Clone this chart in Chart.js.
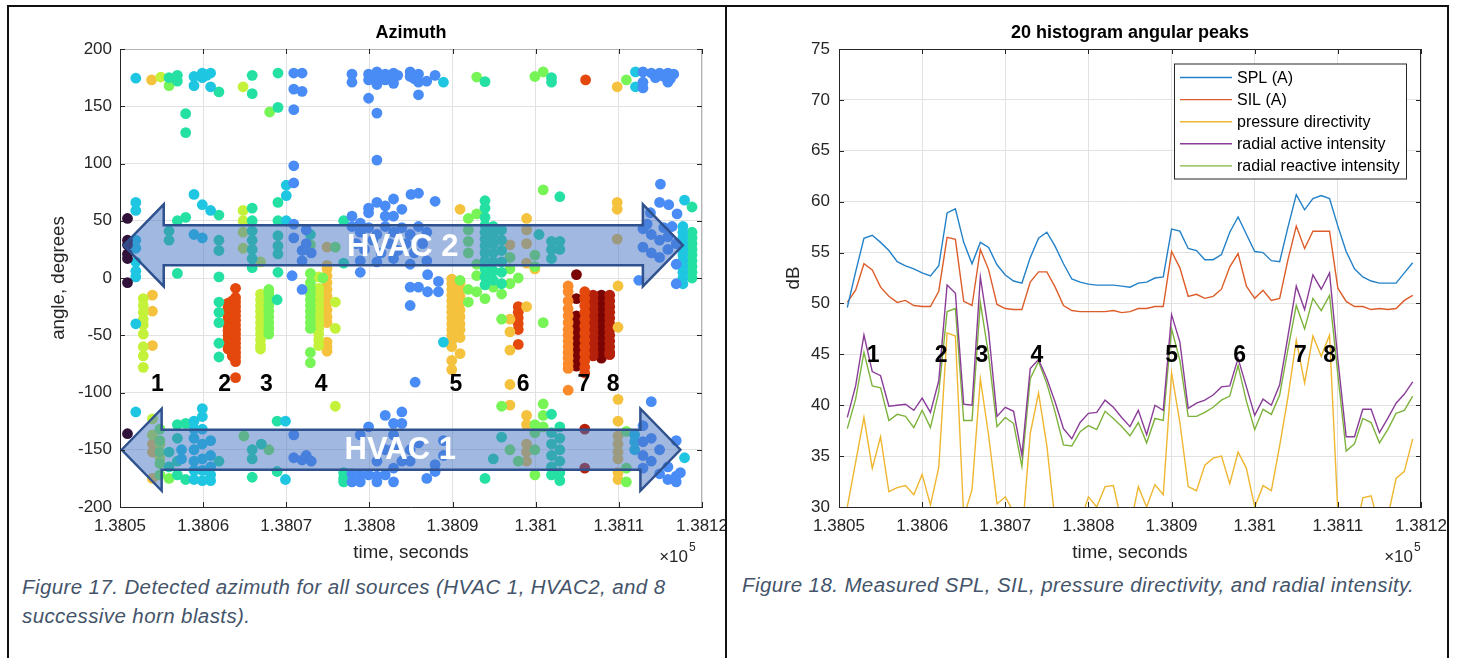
<!DOCTYPE html>
<html>
<head>
<meta charset="utf-8">
<script src="https://cdn.jsdelivr.net/npm/chart.js@4.4.1/dist/chart.umd.min.js"></script>
<style>
html,body{margin:0;padding:0;background:#fff;width:1460px;height:658px;overflow:hidden;position:relative;font-family:"Liberation Sans",Arial,sans-serif}
#az{position:absolute;left:0;top:0}
#lv{position:absolute;left:727px;top:0}
.cap{position:absolute;font-style:italic;color:#44546a;font-size:20.5px;letter-spacing:0.4px;line-height:29px;white-space:nowrap}
.rule{position:absolute;background:#111}
</style>
</head>
<body>
<canvas id="az" width="727" height="565"></canvas>
<canvas id="lv" width="733" height="565"></canvas>
<div class="cap" style="left:22px;top:572px">Figure 17. Detected azimuth for all sources (HVAC 1, HVAC2, and 8<br>successive horn blasts).</div>
<div class="cap" style="left:742px;top:570px">Figure 18. Measured SPL, SIL, pressure directivity, and radial intensity.</div>
<div class="rule" style="left:7px;top:5px;width:1442px;height:2px"></div>
<div class="rule" style="left:7px;top:5px;width:2px;height:653px"></div>
<div class="rule" style="left:725px;top:5px;width:2px;height:653px"></div>
<div class="rule" style="left:1447px;top:5px;width:2px;height:653px"></div>
<script>
// ---- shared axis data ----
const T0 = 138050
const xTickLabels = ['1.3805','1.3806','1.3807','1.3808','1.3809','1.381','1.3811','1.3812']
const hornNumbers = ['1','2','3','4','5','6','7','8']

// ---- Figure 17: azimuth hits, [seconds after T0, angle deg], grouped by colour ----
const purpleHits = [[0.9,52],[0.9,33],[0.9,29],[0.9,21],[0.9,17],[0.9,-4],[0.9,-136]]
const blueHits = [
  [20.9,179],[21.9,179],[20.9,165],[21.9,163],[20.9,147],
  [27.9,178],[27.9,171],[29.9,157],[29.9,178],[29.9,173],[30.9,180],[30.9,175],[30.9,169],[30.9,144],[30.9,103],
  [31.9,178],[31.9,173],[32.9,179],[32.9,175],[32.9,170],[33.4,177],[34.9,180],[34.9,176],[35.4,174],[35.9,178],
  [35.9,171],[35.9,160],[36.9,172],[37.9,177],
  [62.9,180],[62.9,171],[62.9,166],[63.9,179],[64.9,179],[65.9,179],[66.6,178],[64.4,175],[65.4,176],[66.2,174],[65.9,171],
  [20.9,98],[20.9,83],[20.9,47],[20.9,35],[21.9,24],[21.9,15],[20.7,2],[21.9,-10],[22.4,42],[22.4,30],[23,22],
  [27.9,54],[28.9,48],[29.9,61],[29.9,57],[30.9,66],[31.9,63],[32.9,69],[33.9,60],[32.9,54],[31.9,54],[35,73],
  [27.9,45],[28.9,40],[29.9,44],[30.9,38],[31.9,45],[32.9,40],[33.9,44],[34.9,38],[35.9,45],[36.9,40],
  [28.4,30],[29.4,25],[30.4,33],[31.4,22],[32.4,30],[33.4,24],[34.4,30],[35.4,22],[36.4,30],
  [28.9,15],[30.9,14],[32.9,17],[34.9,12],[36.9,15],[28.9,5],[35.9,-8],[34.9,-8],[34.9,-24],[35.5,-91],
  [37.9,67],[35.9,74],[37,3],[38.3,-3],[38.3,-12],[37,-12],
  [65,82],[64.9,66],[66,64],[63.8,57],[67,56],[62.9,43],[63.9,38],[64.9,33],[65.9,36],[66.9,30],[62.9,27],
  [63.9,22],[64.9,18],[65.9,25],[66.9,12],[63.4,47],[65.4,44],[66.4,45],[62.4,-2],[66.9,-5],
  [20.9,-137],[20.9,-157],[21.9,-159],[22.4,-155],[23,-160],
  [27.9,-171],[27.9,-178],[28.9,-137],[28.9,-172],[28.9,-178],[29.9,-130],[29.9,-172],[30.9,-160],[30.9,-173],
  [30.9,-178],[31.9,-120],[31.9,-150],[31.9,-172],[32.9,-127],[32.9,-137],[32.9,-149],[32.9,-166],[32.9,-178],
  [33.9,-117],[33.9,-127],[33.9,-160],[34.9,-160],[34.9,-150],[35.9,-144],[36.9,-175],[37.9,-163],[37.9,-169],
  [38.9,-142],[38.9,-155],
  [62.9,-129],[62.9,-143],[62.9,-155],[62.9,-166],[63.9,-108],[63.9,-160],[63.9,-140],[64.9,-171],[64.9,-150],
  [65.9,-176],[65.9,-165],[66.9,-173],[66.9,-142],[66.9,-178],[67.4,-170]
]
const cyanHits = [
  [1.9,174.5],[8.9,176],[8.9,168],[9.9,179],[9.9,175],[10.9,179],[10.9,167],[10.4,177],[62,180],[62,167],[38.9,171],
  [1.9,66],[1.9,59],[1.9,33],[1.9,26],[1.9,14],[1.9,6],[1.9,1],[8.9,73],[9.9,64],[10.9,59],[8.9,38],[9.9,35],
  [20,81],[20,72],[20,50],
  [67.9,68],[67.7,45],[67.7,40],[67.7,35],[67.7,30],[67.7,25],[67.7,20],[67.7,15],[67.7,10],[67.7,5],[67.7,0],[67.7,-5],
  [1.9,-40],[38.9,-56],
  [1.9,-117],[8.9,-125],[8.9,-132],[8.9,-140],[8.9,-150],[8.9,-160],[8.9,-168],[8.9,-176],[9.9,-114],[9.9,-121],
  [9.9,-132],[9.9,-145],[9.9,-158],[9.9,-168],[9.9,-177],[10.9,-142],[10.9,-155],[10.9,-165],[10.9,-172],[10.9,-177],
  [7.4,-150],[7.4,-158],[19.9,-125],[19.9,-176],[61.9,-137],[61.9,-143],[61.9,-150],[67.9,-157]
]
const tealHits = [
  [5.9,175],[6.9,177],[6.9,172],[7.9,143.5],[7.9,127],[11.9,162.5],[15.9,177],[15.9,161],[19,179],[19,149],
  [43.9,171.5],[51.9,175],[51.9,171],
  [6.9,50],[7.9,53],[5.9,41],[5.9,33],[6.9,4],[11.9,55],[11.9,33],[11.9,24],[11.9,1],
  [15.9,61],[15.9,50],[15.9,41],[15.9,33],[15.9,25],[15.9,17],[15.9,9],
  [19,66],[19,50],[19,37],[19,28],[19,21],[19,5],[26.9,50],[26.9,13],[22.9,38],
  [43.9,67.5],[43.9,61],[43.9,53],[43.9,46],[43.9,40],[43.9,34],[43.9,28],[43.9,22],[43.9,15],[43.9,8],[43.9,1],[43.9,-6],
  [44.9,45],[44.9,38],[44.9,30],[44.9,22],[44.9,14],[44.9,6],[44.9,-2],
  [45.9,42],[45.9,33],[45.9,24],[45.9,14],[45.9,5],[45.9,-5],
  [52.9,71],[50.4,38],[51.9,32],[51.9,25],[51.9,17],[52.9,32],[52.9,25],
  [68.8,62],[68.8,40],[68.8,35],[68.8,30],[68.8,25],[68.8,20],[68.8,15],[68.8,10],[68.8,5],[68.8,0],
  [11.9,-21],[11.9,-30],[11.9,-39],[11.9,-57],[11.9,-69],[18.9,-19],
  [6.9,-128],[7.9,-127],[5.9,-152],[5.9,-165],[6.9,-140],[6.9,-160],[6.9,-172],[7.9,-176],[11.9,-160],
  [15.9,-150],[15.9,-158],[15.9,-174],[17,-145],[18.9,-125],[18.9,-169],[26.9,-170],[26.9,-175],[26.9,-178],
  [43.9,-175],[44.9,-158],[45.9,-139],
  [51.9,-119],[51.9,-135],[51.9,-145],[51.9,-155],[51.9,-165],[51.9,-172],
  [52.9,-130],[52.9,-140],[52.9,-150],[52.9,-160],[52.9,-170],[52.9,-177]
]
const greenHits = [
  [5.9,168],[18,145],[42.9,175.5],[49.9,176],[50.9,180],[60.9,173],
  [22.9,29],[22.9,4],[25.9,27],[41.9,52],[41.9,42],[41.9,32],[41.9,22],[42.9,56],[42.9,12],[42.9,2],[50.9,77],
  [49.9,10],[49.9,20],[46.9,18],[46.9,8],[47.9,0],[46.9,-5],[40.9,-2],[41.9,-10],[41.9,-21],[42.9,-12],[43.9,-18],
  [45.9,-14],[44.9,-8],[45.9,-36],[50.9,-39],[24.4,0],
  [17.9,-10],[17.9,-14],[17.9,-19],[17.9,-24],[17.9,-29],[17.9,-34],[17.9,-39],[17.9,-44],[17.9,-49],
  [22.9,-4],[22.9,-9],[22.9,-14],[22.9,-19],[22.9,-24],[22.9,-29],[22.9,-34],[22.9,-39],[22.9,-44],[22.9,-65],[22.9,-74],
  [4.8,-132],[4.8,-142],[4.8,-152],[4.8,-162],[4.8,-172],[5.9,-175],[14.9,-138],[17.9,-150],[45.9,-112],
  [49.9,-128],[49.9,-135],[49.9,-150],[49.9,-172],[50.9,-110],[50.9,-120],[50.9,-130],
  [60.9,-134],[60.9,-166],[60.9,-178],[46.9,-150],[47.9,-160]
]
const limeHits = [
  [4.9,175.5],[14.8,167],
  [14.8,59],[14.8,50],[14.8,40],[14.8,26],[16.9,14],[23.9,1],
  [2.8,-18],[2.8,-24],[2.8,-30],[2.8,-36],[2.8,-41],[2.8,-49],[2.8,-60],[2.8,-68],[2.8,-78],
  [16.9,-14],[16.9,-19],[16.9,-24],[16.9,-29],[16.9,-34],[16.9,-39],[16.9,-44],[16.9,-49],[16.9,-54],[16.9,-59],[16.9,-62],
  [23.9,-9],[23.9,-14],[23.9,-19],[23.9,-24],[23.9,-29],[23.9,-34],[23.9,-39],[23.9,-44],[23.9,-49],[23.9,-54],[23.9,-59],
  [25.9,-21],[25.9,-44],[25.9,-112],
  [3.9,-123],[3.9,-137],[4.8,-145],[4.8,-157]
]
const yellowHits = [
  [3.8,173],[59.8,167],
  [40.9,60],[48.9,52],[48.9,42],[48.9,30],[48.9,13],[24.9,27],[24.9,11],[46.9,29],[59.8,66],[59.8,60],[59.8,34],[49.9,8],
  [3.9,-15],[3.9,-29],[3.9,-59],
  [24.9,8],[24.9,2],[24.9,-4],[24.9,-10],[24.9,-16],[24.9,-22],[24.9,-28],[24.9,-34],[24.9,-39],[24.9,-56],[24.9,-60],[24.9,-64],
  [39.9,-1],[39.9,-5],[39.9,-10],[39.9,-15],[39.9,-20],[39.9,-25],[39.9,-30],[39.9,-35],[39.9,-40],[39.9,-45],
  [39.9,-50],[39.9,-55],[39.9,-60],[39.9,-72],[39.9,-80],
  [40.9,-4],[40.9,-10],[40.9,-16],[40.9,-22],[40.9,-28],[40.9,-34],[40.9,-40],[40.9,-45],[40.9,-52],[40.9,-66],
  [46.9,-36],[46.9,-47],[46.9,-63],[48.9,-25],[46.9,-93],[46.9,-111],
  [59.9,-7],[59.9,-43],[59.9,-106],[59.9,-125],[59.9,-176],[59.9,-170],
  [3.9,-175],[3.9,-145],[3.9,-152],[48.9,-120],[48.9,-128],[48.9,-145],[48.9,-152],[48.9,-160],
  [59.9,-138],[59.9,-145],[59.9,-152],[59.9,-158]
]
const orangeHits = [
  [53.9,-7],[53.9,-12],[53.9,-20],[53.9,-27],[53.9,-33],[53.9,-39],[53.9,-45],[53.9,-50],[53.9,-55],
  [53.9,-60],[53.9,-65],[53.9,-70],[53.9,-75],[53.9,-79],[53.9,-98]
]
const redOrangeHits = [
  [56,173],
  [13.0,-22],[13.0,-26],[13.0,-30],[13.0,-34],[13.0,-38],[13.0,-42],[13.0,-46],[13.0,-50],[13.0,-54],[13.0,-58],[13.0,-62],
  [13.5,-20],[13.5,-24],[13.5,-28],[13.5,-32],[13.5,-36],[13.5,-40],[13.5,-44],[13.5,-48],[13.5,-52],[13.5,-56],
  [13.5,-60],[13.5,-64],[13.5,-68],
  [13.9,-9],[13.9,-17],[13.9,-21],[13.9,-25],[13.9,-29],[13.9,-33],[13.9,-37],[13.9,-41],[13.9,-45],[13.9,-49],
  [13.9,-53],[13.9,-57],[13.9,-61],[13.9,-65],[13.9,-69],[13.9,-73],[13.9,-87],
  [47.9,-25],[47.9,-30],[47.9,-35],[47.9,-40],[47.9,-45],[47.9,-58],
  [55.9,-12],[55.9,-18],[55.9,-24],[55.9,-30],[55.9,-36],[55.9,-42],[55.9,-48],[55.9,-54],[55.9,-60],
  [55.9,-66],[55.9,-72],[55.9,-78],[55.9,-83]
]
const redHits = [
  [56.9,-15],[56.9,-20],[56.9,-25],[56.9,-30],[56.9,-35],[56.9,-40],[56.9,-45],[56.9,-50],[56.9,-55],[56.9,-60],[56.9,-65],[56.9,-68],
  [58.9,-15],[58.9,-20],[58.9,-25],[58.9,-30],[58.9,-35],[58.9,-40],[58.9,-45],[58.9,-50],[58.9,-55],[58.9,-60],[58.9,-65],[58.9,-67],
  [55.9,-132],[55.9,-166]
]
const maroonHits = [
  [54.9,3],[54.9,-18],[54.9,-33],[54.9,-38],[54.9,-43],[54.9,-48],[54.9,-53],[54.9,-58],[54.9,-63],[54.9,-68],[54.9,-73],[54.9,-77],
  [57.9,-15],[57.9,-20],[57.9,-25],[57.9,-30],[57.9,-35],[57.9,-40],[57.9,-45],[57.9,-50],[57.9,-55],[57.9,-60],[57.9,-65],[57.9,-70]
]

// ---- Figure 18: levels in dB, one sample per second ----
const sampleTimes = [
  138051,138052,138053,138054,138055,138056,138057,138058,138059,138060,
  138061,138062,138063,138064,138065,138066,138067,138068,138069,138070,
  138071,138072,138073,138074,138075,138076,138077,138078,138079,138080,
  138081,138082,138083,138084,138085,138086,138087,138088,138089,138090,
  138091,138092,138093,138094,138095,138096,138097,138098,138099,138100,
  138101,138102,138103,138104,138105,138106,138107,138108,138109,138110,
  138111,138112,138113,138114,138115,138116,138117,138118,138119
]
const splA = [
  49.6,53.1,56.4,56.7,56.0,55.2,54.1,53.7,53.4,53.0,
  52.7,53.7,58.9,59.3,56.0,53.9,56.0,55.5,53.8,52.8,
  52.2,52.0,54.5,56.4,57.0,55.6,53.9,52.4,52.1,51.9,
  51.8,51.8,51.8,51.7,51.6,52.0,52.1,52.5,52.6,57.3,
  57.1,55.4,55.2,54.3,54.3,54.8,57.0,58.5,56.8,55.1,
  55.0,54.2,54.1,57.5,60.7,59.2,60.3,60.6,60.3,57.6,
  55.1,53.4,52.6,52.2,52.0,52.0,52.0,53.0,54.0
]
const silA = [
  50.1,51.3,53.9,53.3,51.6,50.7,50.1,50.3,49.8,49.7,
  49.7,51.2,56.5,56.3,50.2,49.8,55.3,53.3,49.9,49.5,
  49.4,49.4,52.1,53.1,53.1,51.6,49.8,49.3,49.2,49.2,
  49.2,49.2,49.3,49.1,49.2,49.5,49.5,49.7,49.7,55.1,
  53.5,50.7,50.9,50.5,50.7,51.4,53.6,54.9,51.7,50.5,
  51.3,50.3,50.5,54.3,57.6,55.4,57.1,57.1,57.1,51.5,
  50.2,49.7,49.7,49.4,49.5,49.4,49.5,50.3,50.8
]
const pressureDirectivity = [
  30.0,34.4,38.8,33.8,36.9,31.5,31.9,32.1,31.2,33.2,
  30.2,33.9,47.1,46.8,29.0,31.7,42.6,37.0,30.3,31.0,
  29.5,27.0,37.2,41.2,36.0,28.5,27.0,27.5,28.5,31.0,
  30.0,32.0,32.1,28.5,28.0,32.0,30.0,32.2,31.2,43.2,
  38.3,32.0,31.6,34.1,34.8,35.0,32.3,35.4,33.8,30.0,
  32.1,31.6,36.0,40.8,46.4,42.2,46.8,44.8,46.9,29.5,
  26.0,27.0,30.9,31.1,28.0,29.0,32.8,33.5,36.7
]
const radialActive = [
  38.8,41.9,46.9,43.3,42.9,39.9,40.0,40.1,39.5,40.7,
  39.3,42.4,51.8,51.0,40.1,40.0,52.6,47.2,38.9,39.8,
  39.4,35.1,43.6,44.5,42.6,40.3,37.7,36.7,38.3,39.2,
  39.3,40.5,39.8,38.8,37.9,39.5,37.1,40.0,39.5,48.9,
  46.2,39.7,40.2,40.5,41.0,41.8,41.9,44.6,41.8,39.0,
  40.6,40.0,42.0,46.8,51.7,49.4,52.8,51.4,53.0,44.5,
  36.9,36.9,39.6,39.6,37.3,38.7,40.2,41.1,42.3
]
const radialReactive = [
  37.7,40.6,45.2,41.9,41.7,38.5,39.1,38.9,37.8,39.5,
  37.8,41.3,49.2,49.5,38.5,38.5,50.1,44.9,37.9,38.8,
  38.2,34.0,42.6,44.3,42.1,39.3,36.1,36.0,37.4,38.0,
  37.6,39.4,38.7,37.9,37.0,38.3,36.3,38.7,38.5,47.5,
  44.4,38.9,38.9,39.3,39.8,40.5,40.9,43.9,40.4,37.6,
  39.6,39.1,41.0,45.5,49.8,47.5,50.5,49.3,50.8,43.0,
  35.5,36.2,38.7,38.3,36.3,37.6,39.2,39.5,40.9
]
const seriesNames = ['SPL (A)','SIL (A)','pressure directivity','radial active intensity','radial reactive intensity']

// ---- styles ----
const INK = '#262626'
const GRID = '#e2e2e2'
const FONT = '"Liberation Sans", Arial, sans-serif'
Chart.defaults.font.family = FONT
Chart.defaults.color = INK

const hitGroups = [
  { pts: purpleHits, color: '#30123b' },
  { pts: blueHits, color: '#4a8cf6' },
  { pts: cyanHits, color: '#1fc6e2' },
  { pts: tealHits, color: '#24e0a3' },
  { pts: greenHits, color: '#78f556' },
  { pts: limeHits, color: '#c4f13a' },
  { pts: yellowHits, color: '#f4c23c' },
  { pts: orangeHits, color: '#fb8a2a' },
  { pts: redOrangeHits, color: '#e4480c' },
  { pts: redHits, color: '#b5210a' },
  { pts: maroonHits, color: '#7a0403' },
]
const lineColors = ['#2381c8','#dc5d2a','#efb62f','#8a3d98','#7db33c']

function xAxis(height, titlePad) {
  return {
    type: 'linear', min: T0, max: T0 + 70,
    ticks: { stepSize: 10, autoSkip: false, maxRotation: 0, padding: 9, color: INK, font: { size: 17 },
      callback: v => xTickLabels[Math.round((v - T0) / 10)] },
    grid: { color: GRID, drawTicks: false },
    border: { color: INK },
    title: { display: true, text: 'time, seconds', color: INK, font: { size: 18.7 }, padding: { top: 0, bottom: titlePad } },
    // fixed box so the plot area lands where the figure has it
    afterFit: s => { s.height = height; s.paddingLeft = 0; s.paddingRight = 0 }
  }
}

// inward tick marks + full box, like the MATLAB axes
function boxAndTicks(chart, boxColor) {
  const { ctx, chartArea: a, scales: { x, y } } = chart
  ctx.save()
  ctx.strokeStyle = boxColor
  ctx.lineWidth = 1
  ctx.beginPath()
  ctx.moveTo(a.left, a.top + 0.5); ctx.lineTo(a.right, a.top + 0.5)
  ctx.moveTo(a.right - 0.5, a.top); ctx.lineTo(a.right - 0.5, a.bottom)
  ctx.stroke()
  ctx.strokeStyle = INK
  ctx.beginPath()
  x.ticks.forEach(t => {
    const px = Math.round(x.getPixelForValue(t.value)) + 0.5
    ctx.moveTo(px, a.bottom); ctx.lineTo(px, a.bottom - 5)
    ctx.moveTo(px, a.top); ctx.lineTo(px, a.top + 5)
  })
  y.ticks.forEach(t => {
    const py = Math.round(y.getPixelForValue(t.value)) + 0.5
    ctx.moveTo(a.left, py); ctx.lineTo(a.left + 5, py)
    ctx.moveTo(a.right, py); ctx.lineTo(a.right - 5, py)
  })
  ctx.stroke()
  ctx.restore()
}

function exponentLabel(ctx, xRight, yMid) {
  ctx.save()
  ctx.fillStyle = INK
  ctx.textBaseline = 'middle'
  ctx.textAlign = 'right'
  ctx.font = '17px ' + FONT
  ctx.fillText('\u00d710', xRight, yMid)
  ctx.textAlign = 'left'
  ctx.font = '12px ' + FONT
  ctx.fillText('5', xRight + 1, yMid - 9)
  ctx.restore()
}

function chartTitle(chart, text) {
  const { ctx, chartArea: a } = chart
  ctx.save()
  ctx.fillStyle = '#000'
  ctx.font = 'bold 18px ' + FONT
  ctx.textAlign = 'center'
  ctx.textBaseline = 'middle'
  ctx.fillText(text, (a.left + a.right) / 2, 33)
  ctx.restore()
}

// ---- Figure 17 decorations: HVAC arrows and horn numbers ----
const hvacArrows = [
  { text: 'HVAC 2', t0: 0.45, t1: 67.7, angle: 28.5, textT: 34.0, textAngle: 27 },
  { text: 'HVAC 1', t0: 0.2, t1: 67.4, angle: -150, textT: 33.7, textAngle: -151 },
]
const hornAt17 = [4.5, 12.6, 17.6, 24.2, 40.4, 48.5, 55.8, 59.3]
const hornAt18 = [4.1, 12.3, 17.2, 23.8, 40.0, 48.2, 55.5, 59.0]

const azimuthDecor = {
  id: 'azimuthDecor',
  afterDatasetsDraw(chart) {
    const { ctx, scales: { x, y } } = chart
    ctx.save()
    hvacArrows.forEach(ar => {
      const xl = x.getPixelForValue(T0 + ar.t0), xr = x.getPixelForValue(T0 + ar.t1)
      const yc = y.getPixelForValue(ar.angle)
      const body = 20, head = 41, len = 40
      ctx.beginPath()
      ctx.moveTo(xl, yc)
      ctx.lineTo(xl + len, yc - head); ctx.lineTo(xl + len, yc - body)
      ctx.lineTo(xr - len, yc - body); ctx.lineTo(xr - len, yc - head)
      ctx.lineTo(xr, yc)
      ctx.lineTo(xr - len, yc + head); ctx.lineTo(xr - len, yc + body)
      ctx.lineTo(xl + len, yc + body); ctx.lineTo(xl + len, yc + head)
      ctx.closePath()
      ctx.fillStyle = 'rgba(68,114,196,0.5)'
      ctx.fill()
      ctx.lineJoin = 'miter'
      ctx.lineWidth = 2.5
      ctx.strokeStyle = '#2f528f'
      ctx.stroke()
      ctx.fillStyle = '#fff'
      ctx.font = 'bold 31px ' + FONT
      ctx.textAlign = 'center'
      ctx.textBaseline = 'middle'
      ctx.fillText(ar.text, x.getPixelForValue(T0 + ar.textT), y.getPixelForValue(ar.textAngle))
    })
    ctx.fillStyle = '#000'
    ctx.font = 'bold 23px ' + FONT
    hornNumbers.forEach((n, i) => ctx.fillText(n, x.getPixelForValue(T0 + hornAt17[i]), y.getPixelForValue(-93)))
    ctx.restore()
  },
  afterDraw(chart) {
    boxAndTicks(chart, '#b4b4b4')
    chartTitle(chart, 'Azimuth')
    exponentLabel(chart.ctx, 688, 557)
  }
}

new Chart(document.getElementById('az'), {
  type: 'scatter',
  data: {
    datasets: hitGroups.map(g => ({
      data: g.pts.map(p => ({ x: T0 + p[0], y: p[1] })),
      backgroundColor: g.color, borderWidth: 0, pointRadius: 5.4
    }))
  },
  options: {
    responsive: false, animation: false, events: [],
    layout: { padding: { top: 49, right: 25, left: 0, bottom: 0 } },
    plugins: { legend: { display: false }, tooltip: { enabled: false } },
    scales: {
      x: xAxis(58, 1),
      y: {
        min: -200, max: 200,
        ticks: { stepSize: 50, padding: 8, color: INK, font: { size: 17 } },
        grid: { color: GRID, drawTicks: false },
        border: { color: INK },
        title: { display: true, text: 'angle, degrees', color: INK, font: { size: 18.7 }, padding: { top: 48, bottom: 0 } },
        afterFit: s => { s.width = 120 }
      }
    }
  },
  plugins: [azimuthDecor]
})

// ---- Figure 18 ----
const levelDecor = {
  id: 'levelDecor',
  afterDatasetsDraw(chart) {
    const { ctx, scales: { x, y } } = chart
    ctx.save()
    ctx.fillStyle = '#000'
    ctx.font = 'bold 23px ' + FONT
    ctx.textAlign = 'center'
    ctx.textBaseline = 'middle'
    hornNumbers.forEach((n, i) => ctx.fillText(n, x.getPixelForValue(T0 + hornAt18[i]), y.getPixelForValue(44.9)))
    ctx.restore()
  },
  afterDraw(chart) {
    const { ctx, chartArea: a } = chart
    boxAndTicks(chart, INK)
    chartTitle(chart, '20 histogram angular peaks')
    exponentLabel(ctx, 686, 557)
    // legend box from the chart's own datasets
    const bx = a.right - 247, by = a.top + 14.5, bw = 232, bh = 115
    ctx.save()
    ctx.fillStyle = '#fff'
    ctx.fillRect(bx, by, bw, bh)
    ctx.strokeStyle = INK
    ctx.lineWidth = 1
    ctx.strokeRect(bx + 0.5, by + 0.5, bw, bh)
    ctx.font = '16px ' + FONT
    ctx.textBaseline = 'middle'
    ctx.textAlign = 'left'
    chart.data.datasets.forEach((d, i) => {
      const ly = by + 14 + i * 22.1
      ctx.strokeStyle = d.borderColor
      ctx.lineWidth = 1.4
      ctx.beginPath(); ctx.moveTo(bx + 6, ly); ctx.lineTo(bx + 58, ly); ctx.stroke()
      ctx.fillStyle = '#000'
      ctx.fillText(d.label, bx + 63, ly + 1)
    })
    ctx.restore()
  }
}

const levelSeries = [splA, silA, pressureDirectivity, radialActive, radialReactive]
new Chart(document.getElementById('lv'), {
  type: 'line',
  data: {
    datasets: levelSeries.map((vals, i) => ({
      label: seriesNames[i],
      data: vals.map((v, k) => ({ x: sampleTimes[k], y: v })),
      borderColor: lineColors[i], borderWidth: 1.4, pointRadius: 0, tension: 0, fill: false
    }))
  },
  options: {
    responsive: false, animation: false, events: [],
    layout: { padding: { top: 49, right: 39, left: 0, bottom: 0 } },
    plugins: { legend: { display: false }, tooltip: { enabled: false } },
    scales: {
      x: xAxis(58, 1),
      y: {
        min: 30, max: 75,
        ticks: { stepSize: 5, padding: 9, color: INK, font: { size: 17 } },
        grid: { color: GRID, drawTicks: false },
        border: { color: INK },
        title: { display: true, text: 'dB', color: INK, font: { size: 18.7 }, padding: { top: 56, bottom: 0 } },
        afterFit: s => { s.width = 112 }
      }
    }
  },
  plugins: [levelDecor]
})
</script>
</body>
</html>
